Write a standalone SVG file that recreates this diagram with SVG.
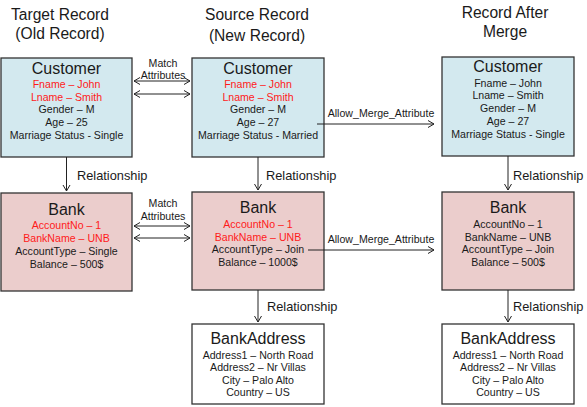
<svg xmlns="http://www.w3.org/2000/svg" width="587" height="407" viewBox="0 0 587 407">
<style>
text{font-family:"Liberation Sans",Arial,sans-serif;fill:#1a1a1a;text-anchor:middle}
.h{font-size:15.6px}
.t{font-size:16px}
.a{font-size:10.6px}
.r{fill:#ff1a1a}
.rel{font-size:12.8px;text-anchor:start}
.cust{fill:#d3e9ef;stroke:#333;stroke-width:1.3}
.bank{fill:#ebcdcc;stroke:#333;stroke-width:1.3}
.addr{fill:#fff;stroke:#333;stroke-width:1.3}
.ln{stroke:#222;stroke-width:1;fill:none}
</style>
<defs>
<marker id="ah" markerUnits="userSpaceOnUse" markerWidth="10" markerHeight="10" refX="7" refY="4" orient="auto-start-reverse">
<path d="M1,0.5 L7,4 L1,7.5" fill="none" stroke="#222" stroke-width="1"/>
</marker>
</defs>
<g id="titles">
<text class="h" x="60" y="20">Target Record</text>
<text class="h" x="60" y="39">(Old Record)</text>
<text class="h" x="257" y="20">Source Record</text>
<text class="h" x="257" y="41">(New Record)</text>
<text class="h" x="505" y="18">Record After</text>
<text class="h" x="505" y="37">Merge</text>
</g>
<g id="customer-old">
<rect class="cust" x="1" y="58" width="131" height="99"/>
<text class="t" x="66.5" y="74">Customer</text>
<text class="a r" x="66.5" y="88">Fname – John</text>
<text class="a r" x="66.5" y="101">Lname – Smith</text>
<text class="a" x="66.5" y="113">Gender – M</text>
<text class="a" x="66.5" y="126">Age – 25</text>
<text class="a" x="66.5" y="139">Marriage Status - Single</text>
</g>
<g id="customer-new">
<rect class="cust" x="192" y="58" width="132" height="99"/>
<text class="t" x="258" y="74">Customer</text>
<text class="a r" x="258" y="88">Fname – John</text>
<text class="a r" x="258" y="101">Lname – Smith</text>
<text class="a" x="258" y="113">Gender – M</text>
<text class="a" x="258" y="126">Age – 27</text>
<text class="a" x="258" y="139">Marriage Status - Married</text>
</g>
<g id="customer-merged">
<rect class="cust" x="442" y="57" width="132" height="99"/>
<text class="t" x="508" y="72">Customer</text>
<text class="a" x="508" y="87">Fname – John</text>
<text class="a" x="508" y="99">Lname – Smith</text>
<text class="a" x="508" y="112">Gender – M</text>
<text class="a" x="508" y="125">Age – 27</text>
<text class="a" x="508" y="138">Marriage Status - Single</text>
</g>
<g id="bank-old">
<rect class="bank" x="1" y="193" width="131" height="98"/>
<text class="t" x="66.5" y="215">Bank</text>
<text class="a r" x="66.5" y="229">AccountNo – 1</text>
<text class="a r" x="66.5" y="242">BankName – UNB</text>
<text class="a" x="66.5" y="255">AccountType – Single</text>
<text class="a" x="66.5" y="268">Balance – 500$</text>
</g>
<g id="bank-new">
<rect class="bank" x="192" y="192" width="132" height="98"/>
<text class="t" x="258" y="213">Bank</text>
<text class="a r" x="258" y="228">AccountNo – 1</text>
<text class="a r" x="258" y="241">BankName – UNB</text>
<text class="a" x="258" y="253">AccountType – Join</text>
<text class="a" x="258" y="266">Balance – 1000$</text>
</g>
<g id="bank-merged">
<rect class="bank" x="442" y="192" width="132" height="98"/>
<text class="t" x="508" y="213">Bank</text>
<text class="a" x="508" y="228">AccountNo – 1</text>
<text class="a" x="508" y="241">BankName – UNB</text>
<text class="a" x="508" y="253">AccountType – Join</text>
<text class="a" x="508" y="266">Balance – 500$</text>
</g>
<g id="bankaddress-new">
<rect class="addr" x="192" y="324" width="132" height="80"/>
<text class="t" x="258" y="344">BankAddress</text>
<text class="a" x="258" y="359">Address1 – North Road</text>
<text class="a" x="258" y="371">Address2 – Nr Villas</text>
<text class="a" x="258" y="384">City – Palo Alto</text>
<text class="a" x="258" y="396">Country – US</text>
</g>
<g id="bankaddress-merged">
<rect class="addr" x="442" y="324" width="132" height="80"/>
<text class="t" x="508" y="344">BankAddress</text>
<text class="a" x="508" y="359">Address1 – North Road</text>
<text class="a" x="508" y="371">Address2 – Nr Villas</text>
<text class="a" x="508" y="384">City – Palo Alto</text>
<text class="a" x="508" y="396">Country – US</text>
</g>
<g id="connectors">
<line class="ln" x1="134" y1="81" x2="190" y2="81" marker-start="url(#ah)" marker-end="url(#ah)"/>
<line class="ln" x1="134" y1="94" x2="190" y2="94" marker-start="url(#ah)" marker-end="url(#ah)"/>
<text class="a" x="163" y="67">Match</text>
<text class="a" x="163" y="79">Attributes</text>
<line class="ln" x1="134" y1="226" x2="190" y2="226" marker-start="url(#ah)" marker-end="url(#ah)"/>
<line class="ln" x1="134" y1="238" x2="190" y2="238" marker-start="url(#ah)" marker-end="url(#ah)"/>
<text class="a" x="163" y="207">Match</text>
<text class="a" x="163" y="220">Attributes</text>
<line class="ln" x1="317" y1="124" x2="434" y2="124" marker-end="url(#ah)"/>
<text class="a" x="381" y="117">Allow_Merge_Attribute</text>
<line class="ln" x1="308" y1="250" x2="434" y2="250" marker-end="url(#ah)"/>
<text class="a" x="381" y="243">Allow_Merge_Attribute</text>
<line class="ln" x1="66.5" y1="157" x2="66.5" y2="191" marker-end="url(#ah)"/>
<text class="rel" x="77" y="180">Relationship</text>
<line class="ln" x1="258" y1="157" x2="258" y2="190" marker-end="url(#ah)"/>
<text class="rel" x="266" y="180">Relationship</text>
<line class="ln" x1="508" y1="156" x2="508" y2="190" marker-end="url(#ah)"/>
<text class="rel" x="513" y="180">Relationship</text>
<line class="ln" x1="258" y1="290" x2="258" y2="322" marker-end="url(#ah)"/>
<text class="rel" x="267" y="311">Relationship</text>
<line class="ln" x1="508" y1="290" x2="508" y2="322" marker-end="url(#ah)"/>
<text class="rel" x="513" y="311">Relationship</text>
</g>
</svg>
